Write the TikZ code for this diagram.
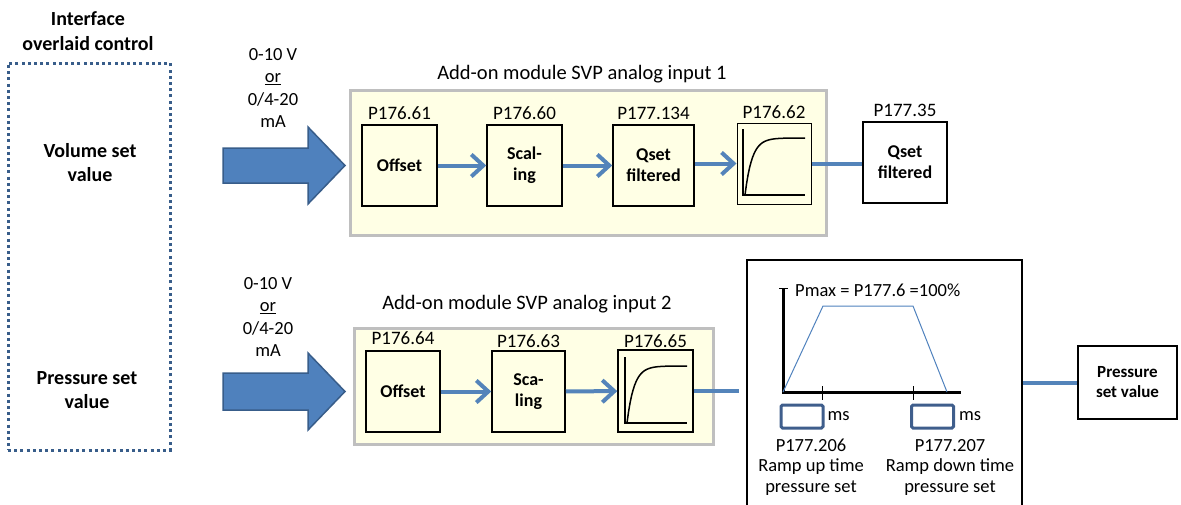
\documentclass[tikz,border=0pt]{standalone}
\usepackage{fontspec}
\setmainfont{Carlito}
\usetikzlibrary{positioning,arrows.meta}
\definecolor{arrowblue}{RGB}{79,129,189}
\definecolor{arrowedge}{RGB}{56,93,138}
\definecolor{linkblue}{RGB}{84,132,186}
\definecolor{modfill}{RGB}{255,255,229}
\definecolor{modedge}{RGB}{191,191,191}
\definecolor{msedge}{RGB}{63,94,140}
\newcommand{\fsz}[2]{\fontsize{#1}{#2}\selectfont}
\tikzset{
  dotbox/.style={draw=arrowedge, line width=3pt, dash pattern=on 3pt off 3.2pt},
  bigarrow/.style={draw=arrowedge, line width=1.5pt, fill=arrowblue},
  module/.style={draw=modedge, line width=3pt, fill=modfill},
  block/.style={draw=black, line width=1.5pt, fill=modfill, minimum height=81pt,
    inner sep=0pt, align=center, font=\bfseries\fsz{18}{21}},
  plabel/.style={font=\fsz{19}{21}, inner sep=0pt},
  link/.style={draw=linkblue, line width=4pt},
  linkarrow/.style={link, -{Straight Barb[length=12pt,width=22pt]}},
  sig/.style={font=\fsz{18.5}{22.3}, align=center},
  ramptext/.style={font=\fsz{18.5}{20.5}, align=center, inner sep=0pt},
  msbox/.style={draw=msedge, line width=3pt, rounded corners=1.5pt, minimum width=42pt, minimum height=23pt}
}
\begin{document}
\begin{tikzpicture}[x=1pt,y=-1pt]
\useasboundingbox (0,0) rectangle (1181,504);
% Interface
\node[font=\bfseries\fsz{20}{25}, align=center] (ifctitle) at (88,31) {Interface\\overlaid control};
\node[dotbox, minimum width=162pt, minimum height=387pt] (ifc) at (89,256.5) {};
\node[font=\bfseries\fsz{20}{24}, align=center] (volset) at (90,163) {Volume set\\value};
\node[font=\bfseries\fsz{20}{24}, align=center] (presset) at (87,390) {Pressure set\\value};
% Signals
\node[sig] (sigA) at (273,88) {0-10 V\\\underline{or}\\0/4-20\\mA};
\node[sig] (sigB) at (268,317) {0-10 V\\\underline{or}\\0/4-20\\mA};
\filldraw[bigarrow] (223,148) -- (308,148) -- (308,127) -- (345,165.5) -- (308,204) -- (308,183) -- (223,183) -- cycle; % upper arrow
\filldraw[bigarrow] (223,373) -- (308,373) -- (308,353) -- (345,391.5) -- (308,430) -- (308,410) -- (223,410) -- cycle; % lower arrow
% Module 1
\node[font=\fsz{20.5}{23}] (titleA) at (582,74) {Add-on module SVP analog input 1};
\node[module, minimum width=476pt, minimum height=145pt] (modA) at (588,162.5) {};
\node[block, minimum width=75pt] (offA) at (399.5,165.5) {Offset};
\node[block, minimum width=75pt] (sclA) at (524.5,165.5) {Scal-\\ing};
\node[block, minimum width=81pt] (qsA) at (653.5,165.5) {Qset\\filtered};
\node[block, minimum width=74pt, line width=1pt] (fltA) at (774,163.5) {};
\node[block, minimum width=84pt, fill=white] (outA) at (905,162.5) {Qset\\filtered};
\node[plabel, above=4pt of offA] (offAlbl) {P176.61};
\node[plabel, above=4pt of sclA] (sclAlbl) {P176.60};
\node[plabel, above=4pt of qsA] (qsAlbl) {P177.134};
\node[plabel, above=4pt of fltA] (fltAlbl) {P176.62};
\node[plabel, above=4pt of outA] (outAlbl) {P177.35};
\draw[black, line width=1.5pt] (743,129) -- (743,195) -- (805,195); % filter axes
\draw[black, line width=1.5pt] plot[domain=0:60, samples=40] ({745+\x},{195-57*(1-exp(-\x/7))});
\draw[linkarrow] (offA) -- (sclA);
\draw[linkarrow] (sclA) -- (qsA);
\draw[linkarrow] (qsA.east |- fltA) -- (fltA);
\draw[link] (fltA.east) -- (fltA.east -| outA.west);
% Module 2
\node[font=\fsz{20.5}{23}] (titleB) at (527,304) {Add-on module SVP analog input 2};
\node[module, minimum width=359pt, minimum height=116pt] (modB) at (533.5,386) {};
\node[block, minimum width=74pt] (offB) at (403,391.5) {Offset};
\node[block, minimum width=73pt] (sclB) at (528.5,391.5) {Sca-\\ling};
\node[block, minimum width=75pt, minimum height=82pt] (fltB) at (655.5,391) {};
\node[plabel, above=5pt of offB] (offBlbl) {P176.64};
\node[plabel, above=2pt of sclB] (sclBlbl) {P176.63};
\node[plabel, above=1.5pt of fltB] (fltBlbl) {P176.65};
\draw[black, line width=1.5pt] (625,357) -- (625,423) -- (687,423); % filter axes
\draw[black, line width=1.5pt] plot[domain=0:60, samples=40] ({627+\x},{423-57*(1-exp(-\x/7))});
\draw[linkarrow] (offB) -- (sclB);
\draw[linkarrow] (sclB) -- (fltB);
% Ramp
\node[draw, line width=1.5pt, minimum width=275pt, minimum height=250pt] (ramp) at (884.5,385) {};
\draw[link, shorten >=7pt] (fltB.east) -- (fltB.east -| ramp.west);
\draw[black, line width=3pt] (783,288) -- (783,392) -- (961,392); % axes
\draw[black, line width=1pt] (779,288) -- (788,288);
\draw[black, line width=1pt] (822,386) -- (822,400);
\draw[black, line width=1pt] (913,386) -- (913,400);
\draw[arrowblue, line width=1pt] (783,392) -- (823,306) -- (913,306) -- (947,392);
\node[font=\fsz{18.5}{21}, anchor=west, inner sep=0pt] (pmax) at (795,290) {Pmax = P177.6 =100\%};
\node[msbox] (upbox) at (802,416.5) {};
\node[ramptext, right=3pt of upbox] (upms) {ms};
\node[msbox] (downbox) at (932.5,416.5) {};
\node[ramptext, right=4pt of downbox] (downms) {ms};
\node[ramptext] (uptxt) at (811,467) {P177.206\\Ramp up time\\pressure set};
\node[ramptext] (downtxt) at (950,467) {P177.207\\Ramp down time\\pressure set};
% Output
\node[block, fill=white, minimum width=99pt, minimum height=73pt, font=\bfseries\fsz{17}{20}] (pres) at (1127.5,382.5) {Pressure\\set value};
\draw[link] (ramp.east |- pres.west) -- (pres.west);
\end{tikzpicture}
\end{document}
